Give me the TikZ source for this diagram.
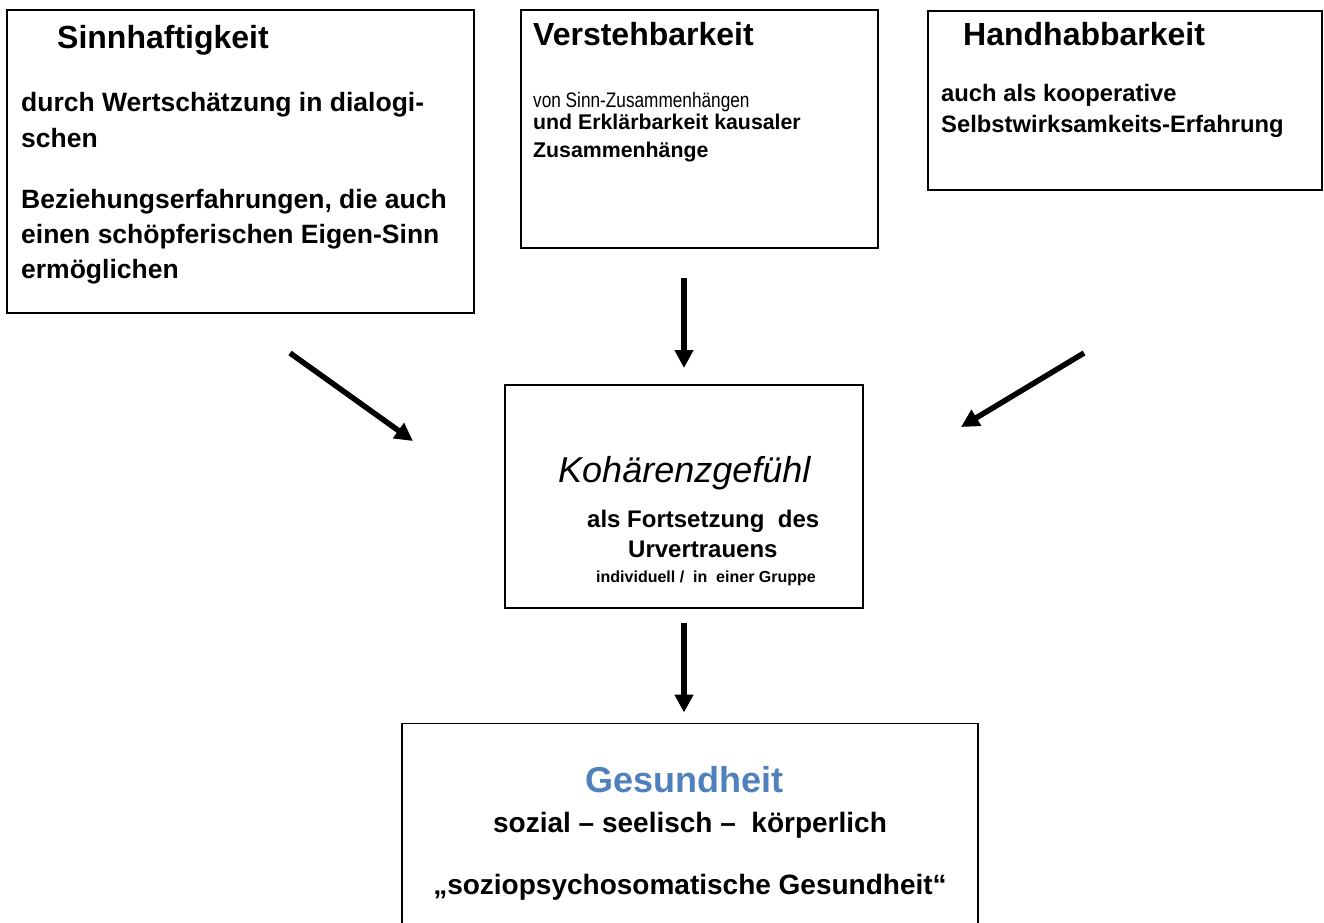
\documentclass[tikz,border=0pt]{standalone}
\usepackage{fontspec}
\setmainfont{Liberation Sans}
\newfontfamily\narrowfont[FakeStretch=0.82]{Liberation Sans}
\usetikzlibrary{arrows.meta}
\definecolor{gblue}{RGB}{79,129,189}
\begin{document}
\begin{tikzpicture}[x=1pt,y=-1pt,
  box/.style={draw,line width=1.6pt,inner sep=0pt,outer sep=0pt},
  txt/.style={inner sep=0pt,anchor=base west,font=\bfseries},
  ctxt/.style={inner sep=0pt,anchor=base,font=\bfseries},
  arr/.style={line width=5.5pt,-{Triangle[length=18pt,width=18pt]}}]
\clip (0,0) rectangle (1324,922);
\fill[white] (0,0) rectangle (1324,922);

% boxes
\node[box,minimum width=467pt,minimum height=303pt] (sinn) at (240.5,161.5) {};
\node[box,minimum width=357pt,minimum height=238pt] (vers) at (699.5,129) {};
\node[box,minimum width=394pt,minimum height=179pt] (hand) at (1125,100.5) {};
\node[box,minimum width=358pt,minimum height=223pt] (koh) at (684,496.5) {};
\node[box,minimum width=576pt,minimum height=237pt] (ges) at (690,842) {};

% box 1 text
\node[txt] (t1a) at (57,48) {\fontsize{32}{38}\selectfont Sinnhaftigkeit};
\node[txt] (t1b) at (21,111) {\fontsize{26.5}{32}\selectfont durch Wertschätzung in dialogi-};
\node[txt] (t1c) at (21,147) {\fontsize{26.5}{32}\selectfont schen};
\node[txt] (t1d) at (21,208) {\fontsize{26.5}{32}\selectfont Beziehungserfahrungen, die auch};
\node[txt] (t1e) at (21,243) {\fontsize{26.5}{32}\selectfont einen schöpferischen Eigen-Sinn};
\node[txt] (t1f) at (21,278) {\fontsize{26.5}{32}\selectfont ermöglichen};

% box 2 text
\node[txt] (t2a) at (533,45) {\fontsize{32}{38}\selectfont Verstehbarkeit};
\node[inner sep=0pt,anchor=base west] (t2b) at (533,107) {\narrowfont\fontsize{21}{25}\selectfont von Sinn-Zusammenhängen};
\node[txt] (t2c) at (533,129) {\fontsize{21.3}{26}\selectfont und Erklärbarkeit kausaler};
\node[txt] (t2d) at (533,157) {\fontsize{21.3}{26}\selectfont Zusammenhänge};

% box 3 text
\node[txt] (t3a) at (963,45) {\fontsize{32}{38}\selectfont Handhabbarkeit};
\node[txt] (t3b) at (941,101) {\fontsize{23.8}{28}\selectfont auch als kooperative};
\node[txt] (t3c) at (941,132) {\fontsize{23.8}{28}\selectfont Selbstwirksamkeits-Erfahrung};

% centre box text
\node[inner sep=0pt,anchor=base west] (t4a) at (558,482) {\fontsize{36}{42}\selectfont\itshape Kohärenzgefühl};
\node[txt] (t4b) at (587,527) {\fontsize{24}{28}\selectfont als Fortsetzung\ \ des};
\node[txt] (t4c) at (628,557) {\fontsize{24}{28}\selectfont Urvertrauens};
\node[txt] (t4d) at (596,582) {\fontsize{16}{19}\selectfont individuell /\ \ in\ \ einer Gruppe};

% bottom box text
\node[ctxt,text=gblue] (t5a) at (684,792) {\fontsize{36}{42}\selectfont Gesundheit};
\node[ctxt] (t5b) at (690,832) {\fontsize{28}{33}\selectfont sozial – seelisch –\ \ körperlich};
\node[ctxt] (t5c) at (690,894) {\fontsize{28}{33}\selectfont „soziopsychosomatische Gesundheit“};

% arrows
\coordinate (l1) at (290,353);
\coordinate (l2) at (413,441);
\coordinate (r1) at (1084,353);
\coordinate (r2) at (961,427);
\draw[arr] (l1) -- (l2);
\draw[arr] (r1) -- (r2);
\draw[arr,shorten <=30pt,shorten >=17pt] (vers.south -| koh.north) -- (koh.north);
\draw[arr,shorten <=15pt,shorten >=11pt] (koh.south) -- (ges.north -| koh.south);
\end{tikzpicture}
\end{document}
